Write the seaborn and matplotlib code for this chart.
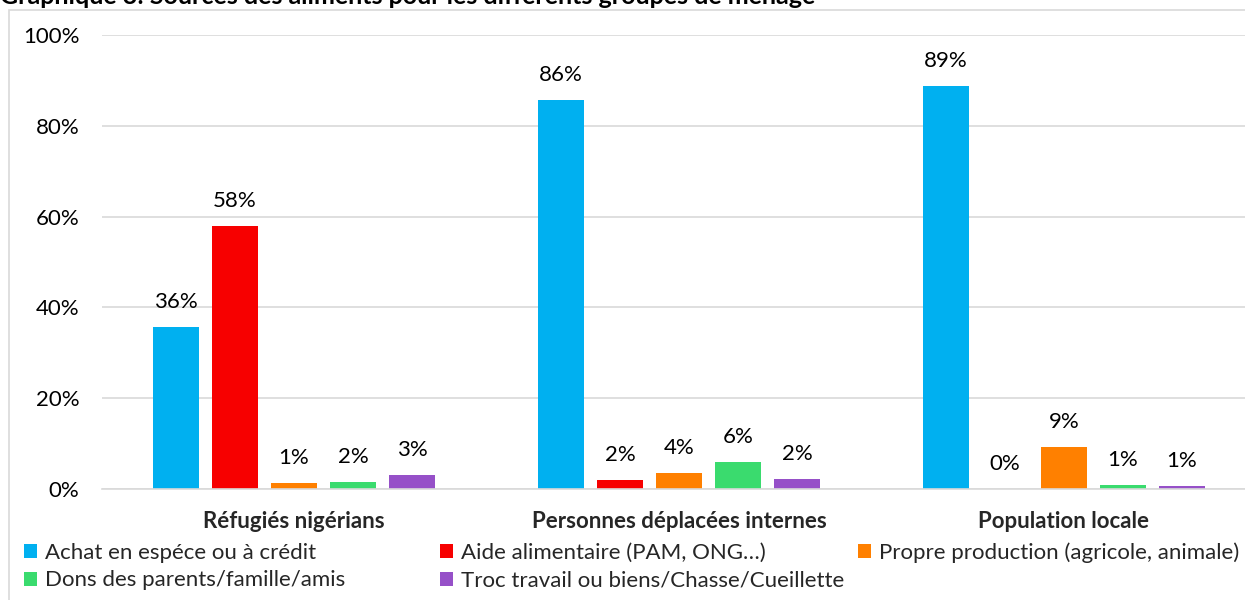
import matplotlib
matplotlib.use("Agg")
import matplotlib.pyplot as plt
from matplotlib.patches import Rectangle, Patch
import seaborn as sns
import pandas as pd

# Food sources by household group (share of households, %)
groups = ["Réfugiés nigérians", "Personnes déplacées internes", "Population locale"]
sources = [
    "Achat en espéce ou à crédit",
    "Aide alimentaire (PAM, ONG…)",
    "Propre production (agricole, animale)",
    "Dons des parents/famille/amis",
    "Troc travail ou biens/Chasse/Cueillette",
]
achat = [35.7, 85.7, 88.8]
aide = [57.9, 2.0, 0.0]
production = [1.3, 3.5, 9.3]
dons = [1.5, 5.9, 0.9]
troc = [3.1, 2.2, 0.6]
colors = ["#00B0F0", "#F70000", "#FF8000", "#3ADB6E", "#9650C8"]

rows = []
for src, vals in zip(sources, [achat, aide, production, dons, troc]):
    for g, v in zip(groups, vals):
        rows.append({"groupe": g, "source": src, "part": v / 100})
df = pd.DataFrame(rows)

sns.set_theme(style="white")
font = ["Lato", "DejaVu Sans"]
plt.rcParams["font.family"] = font
FS = 16

W, H = 1245, 600
fig = plt.figure(figsize=(W / 100, H / 100), dpi=100)
fig.patch.set_facecolor("white")

# chart frame and title
fig.add_artist(Rectangle((9 / W, -0.05), 1.1, 1 - 10 / H + 0.05, transform=fig.transFigure,
                         fill=False, edgecolor="#D9D9D9", lw=1.2))
fig.text(0.0, 1 - 3.5 / H, "Graphique 3: Sources des aliments pour les différents groupes de ménage",
         fontsize=18, fontweight="bold", ha="left", va="baseline", color="black")

ax = fig.add_axes([101.5 / W, 1 - 489 / H, 1155 / W, (489 - 35) / H])
sns.barplot(data=df, x="groupe", y="part", hue="source", hue_order=sources, order=groups,
            palette=colors, width=0.766, gap=0.22, saturation=1, legend=False, ax=ax,
            edgecolor="none", linewidth=0)

ax.set_xlim(-0.5, 2.5)
ax.set_ylim(0, 1)
ax.set_yticks([0, 0.2, 0.4, 0.6, 0.8, 1.0])
ax.set_yticklabels(["0%", "20%", "40%", "60%", "80%", "100%"])
ax.yaxis.grid(True, color="#D9D9D9", lw=1.2)
ax.set_axisbelow(True)
for s in ["top", "right", "left"]:
    ax.spines[s].set_visible(False)
ax.spines["bottom"].set_color("#D9D9D9")
ax.spines["bottom"].set_linewidth(1.2)
ax.tick_params(axis="y", length=0, pad=16, labelsize=FS, labelcolor="#000000")
ax.tick_params(axis="x", length=0, pad=16, labelsize=FS)
for lab in ax.get_xticklabels():
    lab.set_fontweight("bold")
ax.set_xlabel("")
ax.set_ylabel("")

# value labels
for container in ax.containers:
    ax.bar_label(container, labels=[f"{round(b.get_height() * 100):.0f}%" for b in container],
                 padding=11, fontsize=FS, color="#000000")

# legend: three fixed-position columns filled row by row
handles = [Patch(facecolor=c, edgecolor="none") for c in colors]
columns = [([0, 3], 17), ([1, 4], 433), ([2], 851)]
for idx, x0 in columns:
    fig.legend([handles[i] for i in idx], [sources[i] for i in idx], ncol=1,
               loc="upper left", bbox_to_anchor=(x0 / W, 1 - 536 / H), frameon=False,
               fontsize=FS, handlelength=0.6, handleheight=0.6, handletextpad=0.35,
               labelspacing=0.35, borderaxespad=0, borderpad=0.3)

fig.savefig("out.png", dpi=100, facecolor="white")
